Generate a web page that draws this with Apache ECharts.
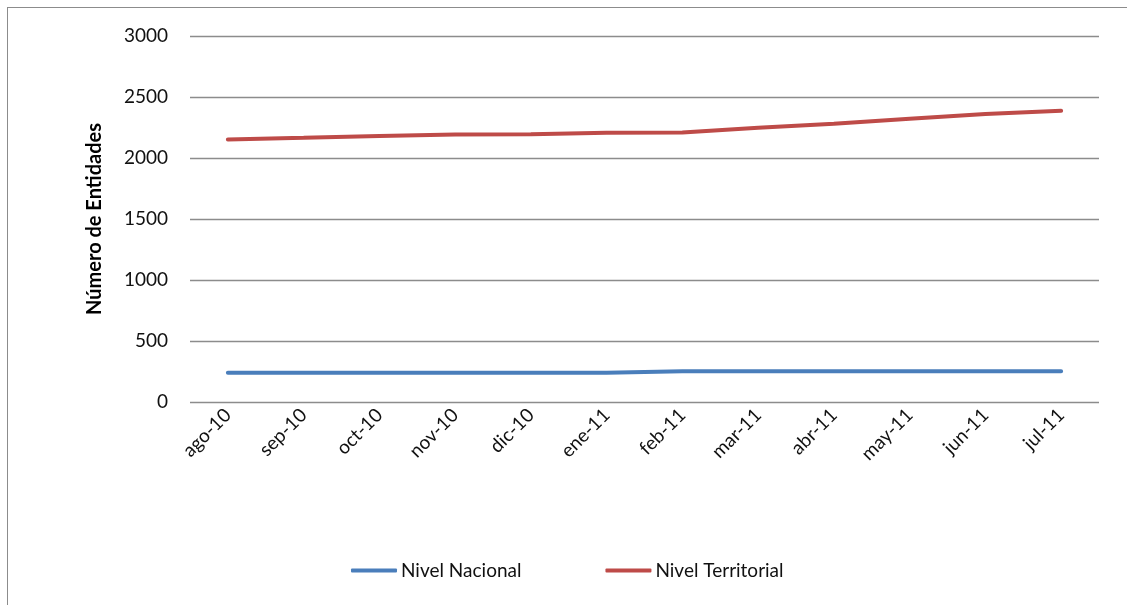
<!DOCTYPE html>
<html>
<head>
<meta charset="utf-8">
<script src="https://cdn.jsdelivr.net/npm/echarts@6/dist/echarts.min.js"></script>
<style>
html,body{margin:0;padding:0;background:#fff;}
#frame{position:absolute;left:7px;top:7px;width:1130px;height:610px;border-left:1.5px solid #8c8c8c;border-top:1.5px solid #8c8c8c;box-sizing:border-box;}
#chart{position:absolute;left:0;top:0;width:1127px;height:605px;}
</style>
</head>
<body>
<div id="frame"></div>
<div id="chart"></div>
<script>
const categories = ['ago-10','sep-10','oct-10','nov-10','dic-10','ene-11','feb-11','mar-11','abr-11','may-11','jun-11','jul-11'];
const nivelNacional = [240, 240, 240, 240, 240, 240, 252, 252, 252, 252, 252, 253];
const nivelTerritorial = [2152, 2165, 2180, 2192, 2195, 2207, 2210, 2248, 2280, 2322, 2360, 2387];
const yTicks = { min: 0, max: 3000, interval: 500 };

const font = 'Lato, "Open Sans", sans-serif';
const chart = echarts.init(document.getElementById('chart'), null, { renderer: 'canvas' });
chart.setOption({
  animation: false,
  backgroundColor: 'transparent',
  grid: { left: 190, right: 28, top: 36, bottom: 203, containLabel: false },
  legend: {
    top: 556,
    left: 346,
    itemGap: 84,
    itemWidth: 46,
    itemHeight: 4,
    icon: 'roundRect',
    textStyle: { fontFamily: font, fontSize: 19, color: '#111', padding: [0, 0, 0, -1] },
    data: ['Nivel Nacional', 'Nivel Territorial']
  },
  xAxis: {
    type: 'category',
    data: categories,
    boundaryGap: true,
    axisLine: { show: false },
    axisTick: { show: false },
    axisLabel: { rotate: 45, margin: 10, fontFamily: font, fontSize: 19, color: '#111' }
  },
  yAxis: {
    type: 'value',
    min: yTicks.min,
    max: yTicks.max,
    interval: yTicks.interval,
    name: 'Número de Entidades',
    nameLocation: 'middle',
    nameGap: 85,
    nameTextStyle: { fontFamily: font, fontSize: 20, fontWeight: 700, color: '#000' },
    axisLine: { show: false },
    axisTick: { show: false },
    splitLine: { lineStyle: { color: '#8c8c8c', width: 1.3 } },
    axisLabel: { margin: 22, fontFamily: font, fontSize: 19, color: '#111', formatter: function (v) { return String(v); } }
  },
  series: [
    {
      name: 'Nivel Nacional', type: 'line', data: nivelNacional, symbol: 'none',
      lineStyle: { color: '#4a7ebb', width: 4, cap: 'round' }, itemStyle: { color: '#4a7ebb' }
    },
    {
      name: 'Nivel Territorial', type: 'line', data: nivelTerritorial, symbol: 'none',
      lineStyle: { color: '#be4b48', width: 4, cap: 'round' }, itemStyle: { color: '#be4b48' }
    }
  ]
});
</script>
</body>
</html>
